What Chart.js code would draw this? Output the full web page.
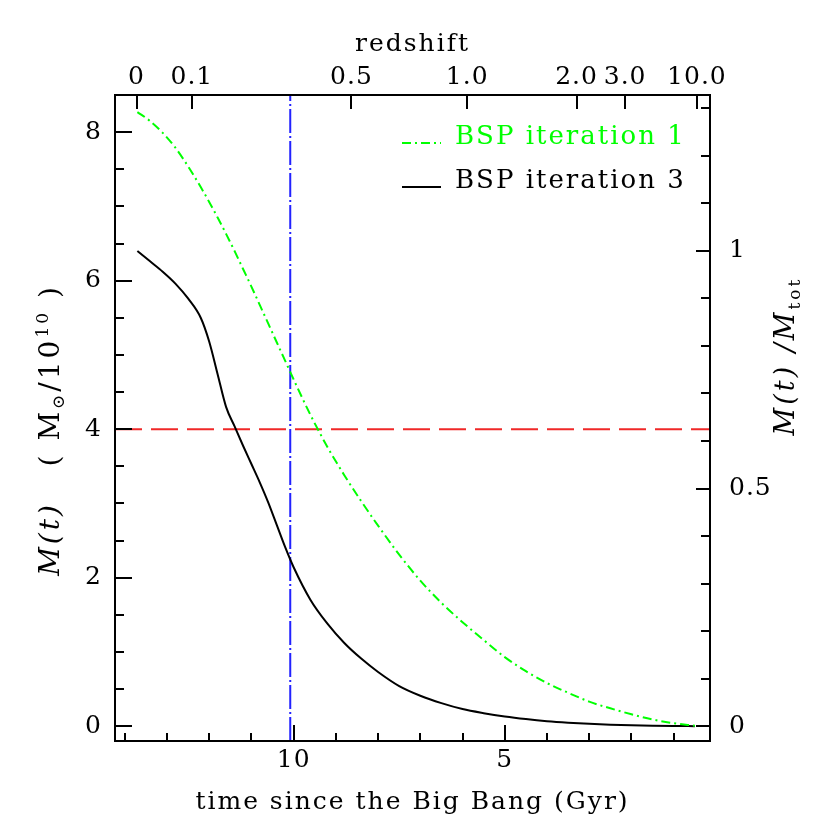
<!DOCTYPE html>
<html>
<head>
<meta charset="utf-8">
<script src="https://cdn.jsdelivr.net/npm/chart.js@4.4.1/dist/chart.umd.min.js"></script>
<style>
  html, body { margin: 0; padding: 0; background: #fff; }
</style>
</head>
<body>
<canvas id="chart1" width="830" height="830"></canvas>
<script>
// time since the Big Bang (Gyr) and stellar mass in units of 1e10 Msun
var timeGyr   = [13.7, 13.4, 13.1, 12.8, 12.5, 12.2, 12.0, 11.8, 11.6, 11.4, 11.2, 11.0, 10.8, 10.6, 10.4, 10.2, 10.0, 9.6, 9.2, 8.8, 8.4, 8.0, 7.5, 7.0, 6.5, 6.0, 5.5, 5.0, 4.5, 4.0, 3.5, 3.0, 2.5, 2.0, 1.5, 1.0, 0.5];
var massIter1 = [8.27, 8.15, 7.99, 7.79, 7.54, 7.26, 7.06, 6.85, 6.63, 6.40, 6.16, 5.92, 5.67, 5.42, 5.17, 4.92, 4.67, 4.19, 3.76, 3.38, 3.03, 2.70, 2.31, 1.96, 1.66, 1.40, 1.16, 0.93, 0.74, 0.58, 0.45, 0.33, 0.24, 0.16, 0.09, 0.04, 0.005];
var massIter3 = [6.40, 6.26, 6.12, 5.96, 5.76, 5.50, 5.18, 4.74, 4.30, 4.04, 3.78, 3.53, 3.28, 3.01, 2.71, 2.41, 2.14, 1.70, 1.38, 1.12, 0.91, 0.73, 0.54, 0.41, 0.31, 0.23, 0.175, 0.13, 0.095, 0.067, 0.047, 0.032, 0.02, 0.012, 0.006, 0.002, 0.0];

var massTot = 6.4;
var refMass = 4;
var refTime = 10.08;

var timeMin = 0.14, timeMax = 14.23;
var massMin = -0.2, massMax = 8.5;

// tick labels
var timeTicks = [10, 5];
var timeMinor = [1, 2, 3, 4, 6, 7, 8, 9, 11, 12, 13, 14];
var massTicks = [0, 2, 4, 6, 8];
var massMinor = [0.5, 1, 1.5, 2.5, 3, 3.5, 4.5, 5, 5.5, 6.5, 7, 7.5, 8.5];
var fracTicks = [0, 0.5, 1];
var fracMinor = [0.1, 0.2, 0.3, 0.4, 0.6, 0.7, 0.8, 0.9, 1.1, 1.2, 1.3];
var redshiftLabels = ['0', '0.1', '0.5', '1.0', '2.0', '3.0', '10.0'];
var redshiftTimes  = [13.72, 12.41, 8.63, 5.89, 3.30, 2.15, 0.45];

var seriesNames = ['BSP iteration 1', 'BSP iteration 3'];

var FONT = "'DejaVu Serif', serif";
var tickFont = { family: FONT, size: 25 };

function pts(xs, ys) {
  return xs.map(function (x, i) { return { x: x, y: ys[i] }; });
}

var framePlugin = {
  id: 'frame',
  beforeDraw: function (chart) {
    chart.ctx.letterSpacing = '1px';
  },
  afterDatasetsDraw: function (chart) {
    var ctx = chart.ctx, a = chart.chartArea;
    var sx = chart.scales.x, sy = chart.scales.y, sy2 = chart.scales.y2;
    ctx.save();
    ctx.strokeStyle = '#000';
    ctx.lineWidth = 2;
    ctx.setLineDash([]);
    ctx.beginPath();
    function vt(v, len, top) {
      var px = Math.round(sx.getPixelForValue(v));
      if (top) { ctx.moveTo(px, a.top); ctx.lineTo(px, a.top + len); }
      else { ctx.moveTo(px, a.bottom); ctx.lineTo(px, a.bottom - len); }
    }
    function ht(s, v, len, right) {
      var py = Math.round(s.getPixelForValue(v));
      if (right) { ctx.moveTo(a.right, py); ctx.lineTo(a.right - len, py); }
      else { ctx.moveTo(a.left, py); ctx.lineTo(a.left + len, py); }
    }
    timeTicks.forEach(function (v) { vt(v, 16, false); });
    timeMinor.forEach(function (v) { vt(v, 8, false); });
    redshiftTimes.forEach(function (v) { vt(v, 14, true); });
    massTicks.forEach(function (v) { ht(sy, v, 17, false); });
    massMinor.forEach(function (v) { ht(sy, v, 9, false); });
    fracTicks.forEach(function (v) { ht(sy2, v, 14, true); });
    fracMinor.forEach(function (v) { ht(sy2, v, 9, true); });
    ctx.stroke();
    ctx.strokeRect(a.left, a.top, a.right - a.left, a.bottom - a.top);
    ctx.restore();
  },
  afterDraw: function (chart) {
    var ctx = chart.ctx, a = chart.chartArea;
    ctx.save();
    ctx.letterSpacing = '2px';
    ctx.textBaseline = 'alphabetic';

    // axis titles
    ctx.fillStyle = '#000';
    ctx.font = '25px ' + FONT;
    ctx.textAlign = 'center';
    ctx.fillText('time since the Big Bang (Gyr)', (a.left + a.right) / 2, 809);
    ctx.fillText('redshift', (a.left + a.right) / 2, 51);

    function rich(parts, cx, cy) {
      var total = 0;
      parts.forEach(function (p) {
        ctx.font = p.f;
        p.w = ctx.measureText(p.t).width;
        total += p.w;
      });
      ctx.save();
      ctx.translate(cx, cy);
      ctx.rotate(-Math.PI / 2);
      ctx.textAlign = 'left';
      var x = -total / 2;
      parts.forEach(function (p) {
        ctx.font = p.f;
        ctx.fillText(p.t, x, p.dy || 0);
        x += p.w;
      });
      ctx.restore();
    }
    ctx.letterSpacing = '3px';
    var it = 'italic 28px ' + FONT, rm = '28px ' + FONT, sm = '17px ' + FONT;
    rich([
      { t: 'M(t)', f: it },
      { t: '   ( M', f: rm },
      { t: '\u2299', f: sm, dy: 5 },
      { t: '/10', f: rm },
      { t: '10', f: sm, dy: -11 },
      { t: ' )', f: rm }
    ], 59, 430);
    ctx.letterSpacing = '3px';
    it = 'italic 27px ' + FONT;
    rich([
      { t: 'M(t) /M', f: it },
      { t: 'tot', f: sm, dy: 6 }
    ], 794, 356);

    // legend
    ctx.letterSpacing = '2px';
    var ds = chart.data.datasets;
    var rows = [{ d: ds[0], y: 143 }, { d: ds[1], y: 187 }];
    rows.forEach(function (r) {
      ctx.strokeStyle = r.d.borderColor;
      ctx.lineWidth = 2;
      ctx.setLineDash(r.d.borderDash || []);
      ctx.beginPath();
      ctx.moveTo(402, r.y);
      ctx.lineTo(441, r.y);
      ctx.stroke();
      ctx.setLineDash([]);
      ctx.fillStyle = r.d.borderColor;
      ctx.font = '26px ' + FONT;
      ctx.textAlign = 'left';
      ctx.fillText(r.d.label, 455, r.y + 1);
    });
    ctx.restore();
  }
};

var ctx = document.getElementById('chart1');

var data = {
  datasets: [{
    label: seriesNames[0],
    data: pts(timeGyr, massIter1),
    borderColor: '#00ff00',
    borderDash: [9, 4, 2, 4],
    borderWidth: 2,
    pointRadius: 0,
    cubicInterpolationMode: 'monotone',
    xAxisID: 'x', yAxisID: 'y'
  }, {
    label: seriesNames[1],
    data: pts(timeGyr, massIter3),
    borderColor: '#000000',
    borderWidth: 2,
    pointRadius: 0,
    cubicInterpolationMode: 'monotone',
    xAxisID: 'x', yAxisID: 'y'
  }, {
    label: 'reference mass',
    data: [{ x: timeMax, y: refMass }, { x: timeMin, y: refMass }],
    borderColor: '#f02828',
    borderDash: [27, 9],
    borderWidth: 2,
    pointRadius: 0,
    xAxisID: 'x', yAxisID: 'y'
  }, {
    label: 'reference time',
    data: [{ x: refTime, y: massMin }, { x: refTime, y: massMax }],
    borderColor: '#2222ff',
    borderDash: [24, 3, 2, 3],
    borderWidth: 2,
    pointRadius: 0,
    xAxisID: 'x', yAxisID: 'y'
  }]
};

function axisBase() {
  return {
    type: 'linear',
    grid: { display: false },
    border: { display: false }
  };
}

var xAxis = axisBase();
xAxis.position = 'bottom';
xAxis.reverse = true;
xAxis.min = timeMin; xAxis.max = timeMax;
xAxis.afterBuildTicks = function (s) { s.ticks = timeTicks.map(function (v) { return { value: v }; }); };
xAxis.afterFit = function (s) { s.height = 89; };
xAxis.ticks = { autoSkip: false, maxRotation: 0, padding: -4, color: '#000', font: tickFont,
  callback: function (v) { return String(v); } };

var xTop = axisBase();
xTop.position = 'top';
xTop.reverse = true;
xTop.min = timeMin; xTop.max = timeMax;
xTop.afterBuildTicks = function (s) { s.ticks = redshiftTimes.map(function (v) { return { value: v }; }); };
xTop.afterFit = function (s) { s.height = 95; };
xTop.ticks = { autoSkip: false, maxRotation: 0, padding: -5, color: '#000', font: tickFont,
  callback: function (v, i) { return redshiftLabels[i]; } };

var yAxis = axisBase();
yAxis.position = 'left';
yAxis.min = massMin; yAxis.max = massMax;
yAxis.afterBuildTicks = function (s) { s.ticks = massTicks.map(function (v) { return { value: v }; }); };
yAxis.afterFit = function (s) { s.width = 115; };
yAxis.ticks = { padding: 5, color: '#000', font: tickFont,
  callback: function (v) { return String(v); } };

var y2Axis = axisBase();
y2Axis.position = 'right';
y2Axis.min = massMin / massTot; y2Axis.max = massMax / massTot;
y2Axis.afterBuildTicks = function (s) { s.ticks = fracTicks.map(function (v) { return { value: v }; }); };
y2Axis.afterFit = function (s) { s.width = 120; };
y2Axis.ticks = { padding: 11, color: '#000', font: tickFont,
  callback: function (v) { return String(v); } };

var options = {
  responsive: false,
  animation: false,
  devicePixelRatio: 1,
  layout: { padding: 0 },
  plugins: { legend: { display: false }, tooltip: { enabled: false } },
  scales: { x: xAxis, xTop: xTop, y: yAxis, y2: y2Axis }
};

var chart1 = new Chart(ctx, {
  type: 'line',
  data: data,
  options: options,
  plugins: [framePlugin]
});
</script>
</body>
</html>
